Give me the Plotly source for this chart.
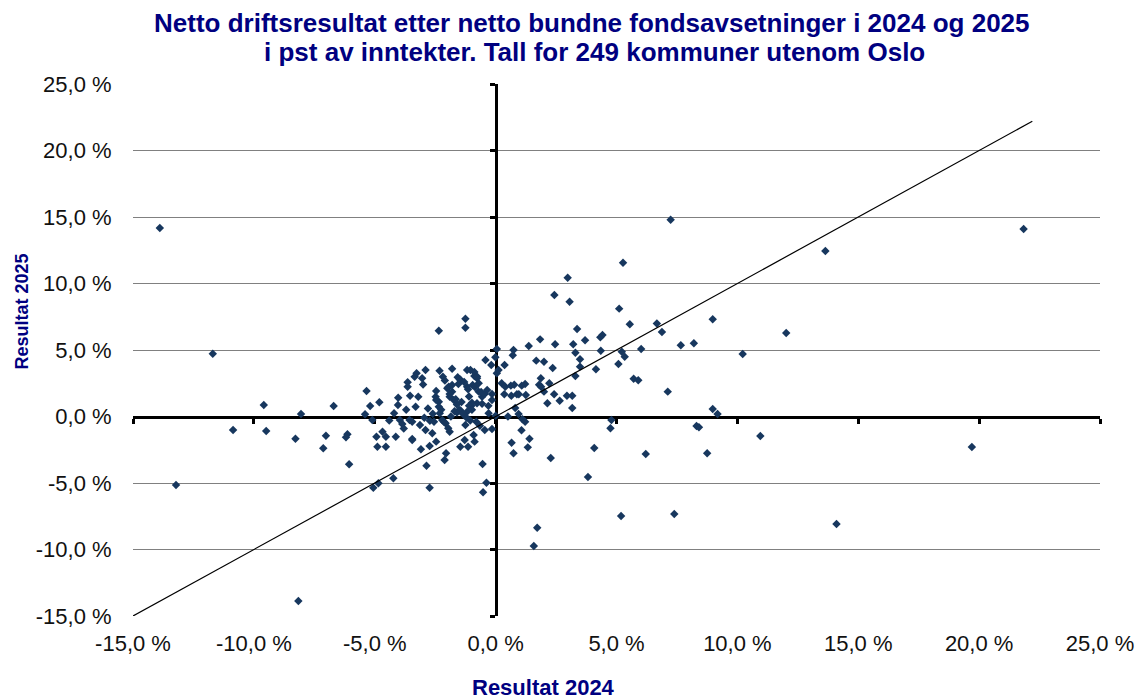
import plotly.graph_objects as go

# Resultat 2024 (x) and Resultat 2025 (y), percent of revenues
res_2024 = [
    -13.89, -11.70, -13.22, -8.16, 7.24, 21.84, 13.64, 19.70, 14.10, 5.27,
    2.98, 2.43, 3.06, 5.11, 3.37, 5.55, 6.67, 6.88, 8.98, 12.02,
    1.84, 2.46, 1.37, 3.21, 3.70, 4.33, 4.42, 4.35, 0.74, 0.71,
    0.05, 3.30, 5.22, 5.34, 6.02, 7.66, 8.20, 10.22, 1.68, 2.00,
    0.37, 0.05, 0.12, 2.36, 3.49, 3.49, 3.30, 4.15, 5.08, 5.71,
    5.90, 1.87, 1.80, 2.22, 1.88, 2.00, 0.25, 0.40, 0.63, 0.77,
    1.08, 1.22, 0.36, 0.65, 0.88, 0.96, 1.25, 2.42, 2.14, 2.65,
    2.95, 3.17, 3.17, 7.12, 8.98, 9.18, 0.81, 0.51, 0.95, 1.11,
    1.22, 4.79, 4.75, 1.07, 8.31, 8.41, 10.95, 0.66, 1.40, 1.33,
    4.08, 0.74, 2.28, 3.82, 6.21, 8.75, 5.19, 7.39, 1.72, 1.58,
    -0.42, -0.18, -0.01, -2.35, -1.25, -1.25, -0.15, -0.15, -0.29, 0.00,
    -0.45, -0.15, -5.34, -5.19, -4.81, -5.40, -5.10, -4.93, -4.68, -4.54,
    -4.54, -4.89, -4.13, -3.64, -3.64, -3.54, -4.03, -3.20, -4.04, -4.20,
    -3.96, -3.86, -3.56, -3.45, -3.45, -3.31, -3.35, -3.27, -3.04, -2.90,
    -3.13, -2.90, -2.62, -2.32, -2.18, -1.80, -2.48, -2.35, -2.72, -2.55,
    -2.31, -2.14, -1.94, -1.80, -1.90, -1.57, -1.48, -1.18, -1.04, -0.88,
    -0.77, -0.95, -1.18, -0.70, -0.56, -0.77, -0.98, -1.41, -1.50, -1.18,
    -1.00, -1.25, -9.59, -10.86, -9.49, -8.05, -8.28, -6.70, -7.02, -6.13,
    -6.19, -7.13, -6.06, -5.06, -4.85, -4.23, -3.45, -3.09, -2.73, -2.46,
    -2.86, -2.73, -2.05, -2.11, -1.46, -1.14, -1.28, -0.87, -0.54, -0.38,
    -0.52, -0.91, -2.46, -2.46, -2.35, -2.21, -2.07, -1.96, -1.90, -2.00,
    -1.90, -1.80, -1.73, -1.60, -1.45, -1.70, -1.44, -1.54, -0.88, -0.77,
    -0.70, -0.85, -0.60, -0.45, -1.14, -1.10, -1.10, -0.98, -0.56, -1.60,
    -1.35, -1.20, -2.60, -2.80, -3.00, -1.30, -0.30, -0.65, -2.25, -1.65,
    -3.80, -4.40, -2.95, -3.70, -1.05, -0.35, -2.10, -1.85, -0.80,
]
res_2025 = [
    14.17, 4.72, -5.15, -13.87, 14.80, 14.10, 12.44, -2.29, -8.08, 11.56,
    10.44, 9.14, 8.63, 8.11, 6.58, 6.93, 7.00, 6.35, 7.31, 6.28,
    5.80, 5.43, 5.30, 5.43, 5.73, 5.95, 6.13, 4.95, 5.00, 4.60,
    5.08, 4.80, 4.87, 4.50, 5.07, 5.35, 5.50, 4.70, 4.20, 4.12,
    3.87, 3.25, 3.50, 3.65, 4.30, 3.75, 3.05, 3.55, 3.95, 2.84,
    2.72, 2.87, 2.39, 2.50, 2.24, 1.87, 2.50, 2.24, 2.32, 2.39,
    2.32, 2.44, 1.67, 1.56, 1.67, 1.67, 1.62, 1.67, 0.99, 1.19,
    1.56, 1.56, 0.64, 1.87, 0.56, 0.19, 0.64, 0.00, 0.19, -0.21,
    -0.39, -0.26, -0.89, -1.04, -0.71, -0.81, -1.47, -1.97, -1.67, -2.32,
    -2.37, -2.77, -3.12, -4.55, -2.82, -2.77, -7.48, -7.33, -8.36, -9.74,
    4.25, 3.87, 4.45, 6.45, 7.35, 6.68, 1.69, 1.24, 0.24, 0.06,
    -1.02, -0.94, 1.92, 0.79, 1.07, 0.17, -0.26, -1.52, -1.14, -1.52,
    -2.27, -2.27, -1.52, 2.57, 2.24, 1.56, 1.41, 1.49, 0.86, 0.24,
    -0.26, -0.56, -0.26, -0.39, -1.69, 0.74, 2.99, 3.25, 2.87, 3.50,
    -0.64, -1.02, -1.26, 3.44, 2.99, 3.59, 1.49, 1.11, -0.32, -0.39,
    0.24, -0.39, 2.24, 1.87, 1.49, 2.95, 2.80, 3.50, 3.50, 3.05,
    2.87, 2.37, 2.24, 1.87, 1.49, 0.99, 1.04, 1.09, 0.49, 0.36,
    0.81, -0.64, 0.86, -1.02, -1.09, 0.19, -1.67, 0.79, -1.44, -1.34,
    -1.56, -2.39, -3.59, -5.35, -5.02, -4.65, -1.77, -2.47, -2.22, -1.89,
    -3.70, -5.35, -2.77, -3.27, -2.27, -2.27, -1.77, -1.89, -3.57, -4.98,
    -5.70, -1.39, 1.92, 1.24, 0.74, -0.26, -0.51, -0.89, -1.14, 2.12,
    1.69, 2.37, 1.24, 0.30, 0.45, 0.40, 2.70, 2.45, 3.35, 3.00,
    2.50, 2.20, 1.85, 1.70, 2.05, 1.50, 0.80, 0.50, 0.95, 0.90,
    0.18, -0.10, 0.20, 0.60, 2.40, 2.60, 0.80, -0.70, 0.50, 1.30,
    -0.90, -0.30, -0.10, 0.50, -0.30, 2.00, 2.70, 0.00, -0.40,
]

# Line y = x
diag_x = [-15.0, 22.2]
diag_y = [-15.0, 22.2]

tick_vals = [-15, -10, -5, 0, 5, 10, 15, 20, 25]
tick_text = ["-15,0 %", "-10,0 %", "-5,0 %", "0,0 %", "5,0 %",
             "10,0 %", "15,0 %", "20,0 %", "25,0 %"]

# the page body has an 8 px margin, so the figure starts at (8, 8)
OFF = 8
W, H = 1146 - OFF, 700 - OFF
# target plot area in page pixels: x 133..1104, y 84..616
L, R, T, B = 133 - OFF, 1146 - 1104, 84 - OFF, 700 - 616
PW, PH = W - L - R, H - T - B


def px(xp):
    # page pixel x -> paper fraction
    return (xp - OFF - L) / PW


def py(yp):
    # page pixel y -> paper fraction
    return (H - B - (yp - OFF)) / PH


NAVY = "#000080"
FONT = "Liberation Sans, Arial, sans-serif"

fig = go.Figure()

fig.add_trace(go.Scatter(
    x=res_2024, y=res_2025, mode="markers",
    marker=dict(symbol="diamond", size=6.5, color="#17375E"),
    showlegend=False, hoverinfo="x+y",
))
fig.add_trace(go.Scatter(
    x=diag_x, y=diag_y, mode="lines",
    line=dict(color="black", width=1.2),
    showlegend=False, hoverinfo="skip",
))
# dummy trace so that the label axes are drawn
fig.add_trace(go.Scatter(
    x=[None], y=[None], xaxis="x2", yaxis="y2",
    showlegend=False, hoverinfo="skip",
))

axis_common = dict(range=[-15, 25], tickvals=tick_vals, zeroline=False,
                   fixedrange=True)

fig.update_layout(
    width=W, height=H,
    margin=dict(l=L, r=R, t=T, b=B),
    paper_bgcolor="white", plot_bgcolor="white",
    font=dict(family=FONT, color="black"),
    xaxis=dict(**axis_common, domain=[0, 1], anchor="free", position=0.375,
               showline=True, linecolor="black", linewidth=3,
               ticks="outside", ticklen=5, tickwidth=3, tickcolor="black",
               showticklabels=False, showgrid=False, layer="below traces"),
    yaxis=dict(**axis_common, domain=[0, 1], anchor="free", position=0.375,
               showline=True, linecolor="black", linewidth=3,
               ticks="outside", ticklen=5, tickwidth=3, tickcolor="black",
               showticklabels=False, showgrid=True, gridcolor="#808080",
               gridwidth=1, layer="below traces"),
    xaxis2=dict(**axis_common, overlaying="x", anchor="y2", side="bottom",
                ticktext=tick_text, showline=False, showgrid=False,
                ticks="outside", ticklen=8, tickcolor="rgba(0,0,0,0)",
                tickfont=dict(size=22, color="#111111", family=FONT)),
    yaxis2=dict(**axis_common, overlaying="y", anchor="x2", side="left",
                ticktext=tick_text, showline=False, showgrid=False,
                ticks="outside", ticklen=16, tickcolor="rgba(0,0,0,0)",
                tickfont=dict(size=22, color="#111111", family=FONT)),
    annotations=[
        dict(text="Netto driftsresultat etter netto bundne fondsavsetninger i 2024 og 2025",
             x=px(594), y=py(23), xref="paper", yref="paper",
             showarrow=False, xanchor="center", yanchor="middle",
             font=dict(size=26, color=NAVY, family=FONT, weight="bold")),
        dict(text="i pst av inntekter. Tall for 249 kommuner utenom Oslo",
             x=px(596), y=py(52), xref="paper", yref="paper",
             showarrow=False, xanchor="center", yanchor="middle",
             font=dict(size=26, color=NAVY, family=FONT, weight="bold")),
        dict(text="Resultat 2024", x=px(545), y=py(687),
             xref="paper", yref="paper", showarrow=False,
             xanchor="center", yanchor="middle",
             font=dict(size=22, color=NAVY, family=FONT, weight="bold")),
        dict(text="Resultat 2025", x=px(22), y=py(311),
             xref="paper", yref="paper", showarrow=False, textangle=-90,
             xanchor="center", yanchor="middle",
             font=dict(size=18, color=NAVY, family=FONT, weight="bold")),
    ],
)

fig.write_html("out.html")
